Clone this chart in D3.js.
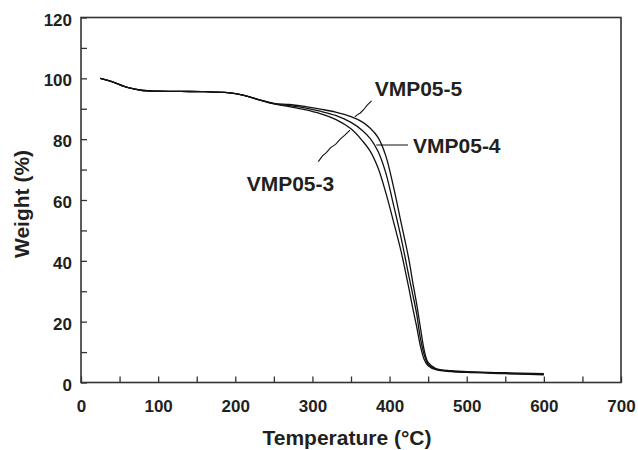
<!DOCTYPE html>
<html>
<head>
<meta charset="utf-8">
<script src="https://cdn.jsdelivr.net/npm/d3@7/dist/d3.min.js"></script>
<style>
  html, body { margin: 0; padding: 0; background: #fff; }
  svg { display: block; }
  text { font-family: "Liberation Sans", Arial, Helvetica, sans-serif; font-weight: bold; fill: #231f20; }
</style>
</head>
<body>
<svg id="chart" width="638" height="450"></svg>
<script>
// TGA curves: weight remaining vs temperature
const temperature = [25, 40, 60, 80, 100, 130, 160, 190, 210, 230, 250, 270, 290, 310, 330, 350, 365, 375, 385, 395, 405, 415, 425, 430, 435, 440, 445, 450, 460, 480, 500, 550, 600];
const weightVMP05_5 = [100, 98.9, 97.0, 96.0, 95.8, 95.7, 95.6, 95.3, 94.5, 93.0, 91.8, 91.4, 90.8, 89.9, 88.9, 87.4, 85.6, 83.6, 80.6, 74.6, 64.4, 52.5, 40.5, 33.0, 26.0, 18.0, 10.5, 6.6, 4.6, 3.9, 3.6, 3.2, 2.9];
const weightVMP05_4 = [100, 98.9, 97.0, 96.0, 95.8, 95.7, 95.6, 95.3, 94.5, 93.0, 91.7, 91.0, 90.3, 89.2, 87.8, 85.5, 82.8, 80.2, 76.0, 69.0, 58.5, 47.5, 35.0, 29.0, 22.7, 14.5, 9.0, 6.0, 4.4, 3.7, 3.5, 3.0, 2.7];
const weightVMP05_3 = [100, 98.9, 97.0, 96.0, 95.8, 95.7, 95.6, 95.3, 94.5, 93.0, 91.6, 90.7, 89.7, 88.4, 86.5, 83.4, 79.4, 76.0, 70.6, 62.5, 53.0, 43.0, 31.0, 24.5, 18.5, 12.0, 7.5, 5.5, 4.2, 3.6, 3.3, 2.9, 2.5];

const seriesNames = ["VMP05-5", "VMP05-4", "VMP05-3"];
const seriesWeights = [weightVMP05_5, weightVMP05_4, weightVMP05_3];

const xTicks = [0, 100, 200, 300, 400, 500, 600, 700];
const xMinorTicks = [50, 150, 250, 350, 450, 550, 650];
const yTicks = [0, 20, 40, 60, 80, 100, 120];
const yMinorTicks = [10, 30, 50, 70, 90, 110];

// Annotation labels (data units) and their leader lines
const labels = [
  { text: "VMP05-5", t: 380.7, w: 94.2 },
  { text: "VMP05-4", t: 430.4, w: 75.3 },
  { text: "VMP05-3", t: 214.8, w: 63.0 }
];
const leaders = [
  [[376.6, 92.6], [371, 91.2], [366, 89.6], [362, 88.6], [358, 88.0], [355, 87.3]],
  [[382.8, 78.1], [423.9, 78.1]],
  [[307.6, 72.6], [313, 74.5], [318, 75.6], [324, 77.3], [330, 78.3], [336, 80.0], [342, 81.3], [348.7, 83.0]]
];

const margin = { left: 81, top: 17.5, right: 17, bottom: 67.5 };
const width = 638 - margin.left - margin.right;
const height = 450 - margin.top - margin.bottom;

const svg = d3.select("#chart");
const g = svg.append("g").attr("transform", `translate(${margin.left},${margin.top})`);

const x = d3.scaleLinear().domain([0, 700]).range([0, width]);
const y = d3.scaleLinear().domain([0, 120]).range([height, 0]);

// Minor ticks
g.append("g")
  .attr("transform", `translate(0,${height})`)
  .call(d3.axisBottom(x).tickValues(xMinorTicks).tickSize(-6).tickFormat(""))
  .call(a => a.select(".domain").remove())
  .call(a => a.selectAll("line").attr("stroke", "#333").attr("stroke-width", 1.3));
g.append("g")
  .call(d3.axisLeft(y).tickValues(yMinorTicks).tickSize(-6).tickFormat(""))
  .call(a => a.select(".domain").remove())
  .call(a => a.selectAll("line").attr("stroke", "#333").attr("stroke-width", 1.3));

// Major ticks with labels
const xAxis = g.append("g")
  .attr("transform", `translate(0,${height})`)
  .call(d3.axisBottom(x).tickValues(xTicks).tickSize(-6).tickPadding(17).tickFormat(d3.format("d")));
const yAxis = g.append("g")
  .call(d3.axisLeft(y).tickValues(yTicks).tickSize(-6).tickPadding(9).tickFormat(d3.format("d")));

[xAxis, yAxis].forEach(a => {
  a.select(".domain").remove();
  a.selectAll("line").attr("stroke", "#333").attr("stroke-width", 1.3);
  a.selectAll("text")
    .style("font-family", "'Liberation Sans', Arial, sans-serif")
    .style("font-weight", "bold")
    .attr("font-size", 17)
    .attr("fill", "#231f20");
});
yAxis.selectAll("text").attr("dy", "0.45em");
xAxis.selectAll("text").attr("dy", "0.72em");

// Plot frame
g.append("rect")
  .attr("x", 0).attr("y", 0)
  .attr("width", width).attr("height", height)
  .attr("fill", "none")
  .attr("stroke", "#333")
  .attr("stroke-width", 1.6);

// Curves
const line = d3.line()
  .x(d => x(d[0]))
  .y(d => y(d[1]))
  .curve(d3.curveCatmullRom.alpha(0.5));

seriesWeights.forEach((ws, i) => {
  const pts = temperature.map((t, j) => [t, ws[j]]);
  g.append("path")
    .datum(pts)
    .attr("class", "curve " + seriesNames[i])
    .attr("fill", "none")
    .attr("stroke", "#111")
    .attr("stroke-width", 1.3)
    .attr("stroke-linejoin", "round")
    .attr("d", line);
});

// Leader lines
const leaderLine = d3.line().x(d => x(d[0])).y(d => y(d[1]));
leaders.forEach(pts => {
  g.append("path")
    .attr("d", leaderLine(pts))
    .attr("fill", "none")
    .attr("stroke", "#111")
    .attr("stroke-width", 1.1);
});

// Series labels
labels.forEach(l => {
  g.append("text")
    .attr("x", x(l.t))
    .attr("y", y(l.w))
    .attr("font-size", 21)
    .text(l.text);
});

// Axis titles
svg.append("text")
  .attr("x", 347)
  .attr("y", 445)
  .attr("text-anchor", "middle")
  .attr("font-size", 21)
  .text("Temperature (°C)");

svg.append("text")
  .attr("transform", "translate(28.5,204) rotate(-90)")
  .attr("text-anchor", "middle")
  .attr("font-size", 21)
  .text("Weight (%)");
</script>
</body>
</html>
